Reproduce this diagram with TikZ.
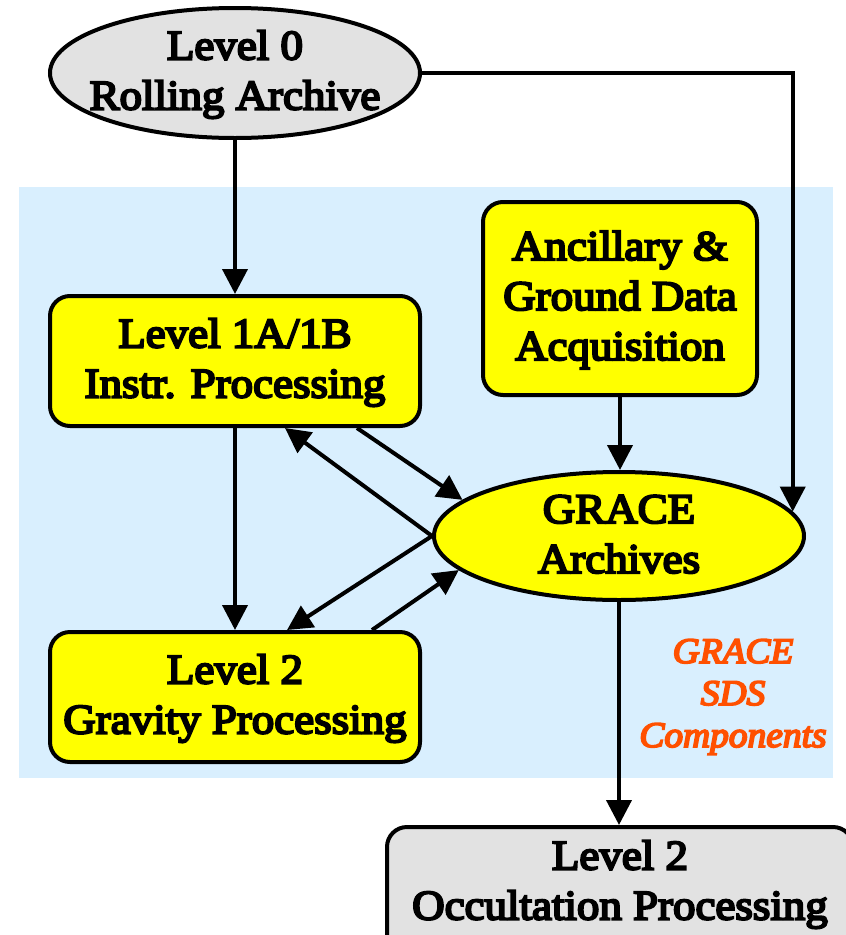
\documentclass[tikz,border=0pt]{standalone}
\usepackage{fontspec}
\setmainfont{Liberation Serif}
\newfontfamily\boxfont{Liberation Serif}[FakeBold=5,FakeStretch=1.07]
\newfontfamily\sdsfont{Liberation Serif Italic}[FakeBold=5,FakeStretch=1.04]
\usetikzlibrary{arrows.meta,shapes.geometric}
\definecolor{bgblue}{HTML}{D9EFFE}
\definecolor{boxyellow}{HTML}{FFFF00}
\definecolor{lgray}{HTML}{E2E2E2}
\definecolor{sdsorange}{HTML}{FF5000}
\newcommand\sst{\rule[-8pt]{0pt}{40pt}}
\newcommand\ost{\rule[-8pt]{0pt}{34pt}}
\begin{document}
\begin{tikzpicture}[x=1pt,y=-1pt,
  lbl/.style={font=\fontsize{42}{50}\selectfont\boxfont, align=center, inner sep=0pt},
  pbox/.style={draw=black, line width=4pt, rounded corners=20pt, fill=boxyellow, inner sep=0pt},
  oval/.style={ellipse, draw=black, line width=4pt, inner sep=0pt},
  arr/.style={line width=4pt, -{Triangle[length=25pt,width=25pt]}},
  sds/.style={font=\fontsize{36}{42}\selectfont\sdsfont, text=sdsorange, align=center, inner sep=0pt}
]
\clip (0,0) rectangle (846,935);
\fill[bgblue] (19,187) rectangle (833,778);

% nodes
\node[oval, fill=lgray, minimum width=370pt, minimum height=130pt] (L0) at (235,73) {};
\node[lbl] (L0t) at (L0.center) {\sst Level 0\\\sst Rolling Archive};

\node[pbox, lbl, minimum width=370pt, minimum height=130pt] (L1) at (235,361)
  {\sst Level 1A/1B\\\sst Instr. Processing};

\node[pbox, lbl, minimum width=274pt, minimum height=193pt] (anc) at (620,298.5)
  {\sst Ancillary \&\\\sst Ground Data\\\sst Acquisition};

\node[oval, fill=boxyellow, minimum width=370pt, minimum height=128pt] (ga) at (619,536) {};
\node[lbl] (gat) at (ga.center) {\sst GRACE\\\sst Archives};

\node[pbox, lbl, minimum width=370pt, minimum height=130pt] (L2) at (235,697)
  {\sst Level 2\\\sst Gravity Processing};

\node[pbox, fill=lgray, minimum width=466pt, minimum height=130pt] (occ) at (620,892) {};
\node[lbl] (occt) at (620,883) {\sst Level 2\\\sst Occultation Processing};

\node[sds] (sdst) at (733,696) {\ost GRACE\\\ost SDS\\\ost Components};

% connectors
\draw[arr] (L0.south) -- (L1.north);
\draw[arr] (L0.east) -| (ga.8.4);
\draw[arr] (anc.south) -- (anc.south |- ga.north);
\draw[arr] (L1.south) -- (L2.north);
\draw[arr] ([xshift=122pt]L1.south) -- (ga.167);
\draw[arr] (ga.west) -- ([xshift=50pt]L1.south);
\draw[arr] (ga.west) -- ([xshift=52pt]L2.north);
\draw[arr] ([xshift=137pt]L2.north) -- (ga.192.5);
\draw[arr] (ga.south) -- (ga.south |- occ.north);
\end{tikzpicture}
\end{document}
